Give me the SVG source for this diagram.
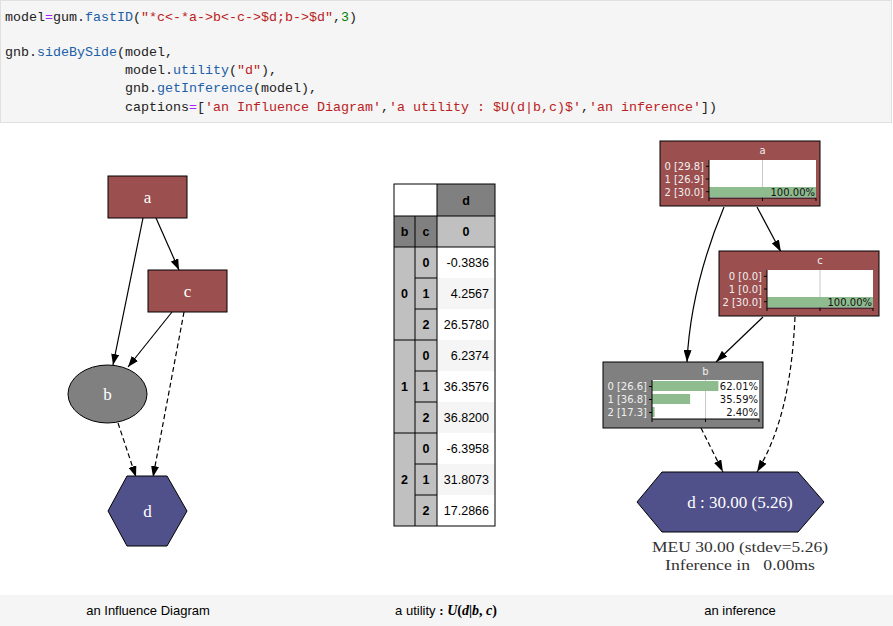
<svg xmlns="http://www.w3.org/2000/svg" width="893" height="626" viewBox="0 0 893 626">
<defs>
<style>
.code{font-family:"Liberation Mono",monospace;font-size:13.33px;fill:#212121;white-space:pre}
.op{fill:#aa22ff}.pr{fill:#2060a8}.st{fill:#ba2121}.nu{fill:#008000}
.cap{font-family:"Liberation Sans",Arial,sans-serif;font-size:13px;fill:#000;text-anchor:middle}
.gv{font-family:"Liberation Serif","Times New Roman",serif;font-size:17px;fill:#fff;text-anchor:middle}
.red{fill:#9c4f4f;stroke:#000;stroke-width:1}
.gray{fill:#808080;stroke:#000;stroke-width:1}
.blue{fill:#50508a;stroke:#000;stroke-width:1}
.edge{fill:none;stroke:#000;stroke-width:1.2}
.dash{stroke-dasharray:5,3}
.tb{font-family:"Liberation Sans",Arial,sans-serif;font-size:12.5px;fill:#000}
.tbb{font-weight:bold;text-anchor:middle}
.tv{text-anchor:end}
.tl{stroke:#000;stroke-width:1}
.pl{font-family:"DejaVu Sans",sans-serif;font-size:10px}
.ttl{fill:#f0f0f0;text-anchor:middle}
.lab{fill:#f0f0f0;text-anchor:end}
.pct{fill:#111;text-anchor:end}
.bar{fill:#8fbc8f}
.grid{stroke:#c8c8c8;stroke-width:1}
.ax{stroke:#000;stroke-width:1}
.res{font-family:"Liberation Serif","Times New Roman",serif;font-size:15.5px;fill:#333;text-anchor:middle;white-space:pre}
</style>
<marker id="ah" markerWidth="11" markerHeight="8" refX="11" refY="4" orient="auto" markerUnits="userSpaceOnUse">
<path d="M0,0 L11,4 L0,8 z" fill="#000"/>
</marker>
<marker id="ah2" markerWidth="12" markerHeight="8" refX="12" refY="4" orient="auto" markerUnits="userSpaceOnUse">
<path d="M0,0 L12,4 L0,8 z" fill="#000"/>
</marker>
</defs>
<rect width="893" height="626" fill="#fff"/>
<g id="code">
<rect x="0.5" y="0.5" width="891" height="122" fill="#f5f5f5" stroke="#e0e0e0"/>
<text class="code" x="5" y="21">model<tspan class="op">=</tspan>gum.<tspan class="pr">fastID</tspan>(<tspan class="st">"*c&lt;-*a-&gt;b&lt;-c-&gt;$d;b-&gt;$d"</tspan>,<tspan class="nu">3</tspan>)</text>
<text class="code" x="5" y="56">gnb.<tspan class="pr">sideBySide</tspan>(model,</text>
<text class="code" x="125" y="74">model.<tspan class="pr">utility</tspan>(<tspan class="st">"d"</tspan>),</text>
<text class="code" x="125" y="92">gnb.<tspan class="pr">getInference</tspan>(model),</text>
<text class="code" x="125" y="111">captions<tspan class="op">=</tspan>[<tspan class="st">'an Influence Diagram'</tspan>,<tspan class="st">'a utility : $U(d|b,c)$'</tspan>,<tspan class="st">'an inference'</tspan>])</text>
</g>
<g id="captions">
<rect x="0" y="595" width="893" height="31" fill="#f5f5f5"/>
<text class="cap" x="148" y="615">an Influence Diagram</text>
<text class="cap" x="446" y="615">a utility <tspan font-family="Liberation Serif,serif" font-weight="bold">:</tspan> <tspan font-family="Liberation Serif,serif" font-style="italic" font-weight="bold" font-size="14px">U</tspan><tspan font-family="Liberation Serif,serif" font-weight="bold" font-size="14px">(</tspan><tspan font-family="Liberation Serif,serif" font-style="italic" font-weight="bold" font-size="14px">d</tspan><tspan font-family="Liberation Serif,serif" font-weight="bold" font-size="14px">|</tspan><tspan font-family="Liberation Serif,serif" font-style="italic" font-weight="bold" font-size="14px">b</tspan><tspan font-family="Liberation Serif,serif" font-weight="bold" font-size="14px">, </tspan><tspan font-family="Liberation Serif,serif" font-style="italic" font-weight="bold" font-size="14px">c</tspan><tspan font-family="Liberation Serif,serif" font-weight="bold" font-size="14px">)</tspan></text>
<text class="cap" x="740" y="615">an inference</text>
</g>
<g id="id-connectors">
<path class="edge" d="M143,218 L113,365" marker-end="url(#ah)"/>
<path class="edge" d="M156,218 L179,270" marker-end="url(#ah)"/>
<path class="edge" d="M172,312 L128,367" marker-end="url(#ah)"/>
<path class="edge dash" d="M184,312 L153,477" marker-end="url(#ah)"/>
<path class="edge dash" d="M118,423 L136,477" marker-end="url(#ah)"/>
</g>
<g id="id-a"><rect class="red" x="108" y="176" width="79" height="42"/><text class="gv" x="147.5" y="203">a</text></g>
<g id="id-c"><rect class="red" x="148" y="270" width="79" height="42"/><text class="gv" x="187.5" y="297">c</text></g>
<g id="id-b"><ellipse class="gray" cx="107.5" cy="394" rx="39.5" ry="29"/><text class="gv" x="107.5" y="400">b</text></g>
<g id="id-d"><polygon class="blue" points="108,511 127,476 167,476 187,511 167,546 127,546"/><text class="gv" x="147.5" y="517">d</text></g>
<g id="utility-table" class="tb">
<rect x="394" y="184" width="43" height="32" fill="#fff"/>
<rect x="437" y="184" width="58" height="32" fill="#808080"/>
<rect x="394" y="216" width="43" height="31" fill="#808080"/>
<rect x="437" y="216" width="58" height="31" fill="#c0c0c0"/>
<rect x="394" y="247" width="43" height="279" fill="#c0c0c0"/>
<rect x="437" y="247" width="58" height="279" fill="#fff"/>
<rect x="437" y="278" width="58" height="31" fill="#f5f5f5"/>
<rect x="437" y="340" width="58" height="31" fill="#f5f5f5"/>
<rect x="437" y="402" width="58" height="31" fill="#f5f5f5"/>
<rect x="437" y="464" width="58" height="31" fill="#f5f5f5"/>
<rect x="394" y="184" width="101" height="342" fill="none" class="tl"/>
<line class="tl" x1="437" y1="184" x2="437" y2="526"/>
<line class="tl" x1="415" y1="216" x2="415" y2="526"/>
<line class="tl" x1="394" y1="216" x2="495" y2="216"/>
<line class="tl" x1="394" y1="247" x2="495" y2="247"/>
<line class="tl" x1="394" y1="340" x2="437" y2="340"/>
<line class="tl" x1="394" y1="433" x2="437" y2="433"/>
<line class="tl" x1="415" y1="278" x2="437" y2="278"/>
<line class="tl" x1="415" y1="309" x2="437" y2="309"/>
<line class="tl" x1="415" y1="371" x2="437" y2="371"/>
<line class="tl" x1="415" y1="402" x2="437" y2="402"/>
<line class="tl" x1="415" y1="464" x2="437" y2="464"/>
<line class="tl" x1="415" y1="495" x2="437" y2="495"/>
<text class="tbb" x="466" y="205">d</text>
<text class="tbb" x="404.5" y="236">b</text>
<text class="tbb" x="426" y="236">c</text>
<text class="tbb" x="466" y="236">0</text>
<text class="tbb" x="404.5" y="298">0</text>
<text class="tbb" x="404.5" y="391">1</text>
<text class="tbb" x="404.5" y="484">2</text>
<text class="tbb" x="426" y="267">0</text>
<text class="tbb" x="426" y="298">1</text>
<text class="tbb" x="426" y="329">2</text>
<text class="tbb" x="426" y="360">0</text>
<text class="tbb" x="426" y="391">1</text>
<text class="tbb" x="426" y="422">2</text>
<text class="tbb" x="426" y="453">0</text>
<text class="tbb" x="426" y="484">1</text>
<text class="tbb" x="426" y="515">2</text>
<text class="tv" x="489" y="267">-0.3836</text>
<text class="tv" x="489" y="298">4.2567</text>
<text class="tv" x="489" y="329">26.5780</text>
<text class="tv" x="489" y="360">6.2374</text>
<text class="tv" x="489" y="391">36.3576</text>
<text class="tv" x="489" y="422">36.8200</text>
<text class="tv" x="489" y="453">-6.3958</text>
<text class="tv" x="489" y="484">31.8073</text>
<text class="tv" x="489" y="515">17.2866</text>
</g>
<g id="inf-connectors">
<path class="edge" d="M724,207 C707,248 690,300 687,362" marker-end="url(#ah2)"/>
<path class="edge" d="M757,207 L781,252" marker-end="url(#ah2)"/>
<path class="edge" d="M763,317 L716,362" marker-end="url(#ah2)"/>
<path class="edge dash" d="M795,317 C792,380 782,430 757,472" marker-end="url(#ah2)"/>
<path class="edge dash" d="M701,428 L723,472" marker-end="url(#ah2)"/>
</g>
<g id="inf-a" class="pl">
<rect class="red" x="660" y="141" width="160" height="65"/>
<text class="ttl" x="762.5" y="154">a</text>
<rect x="709" y="160" width="107" height="38" fill="#fff"/>
<line class="grid" x1="762.5" y1="160" x2="762.5" y2="198"/>
<rect class="bar" x="709" y="187" width="107" height="10"/>
<line class="ax" x1="709" y1="160" x2="709" y2="198"/>
<line class="ax" x1="709" y1="198" x2="816" y2="198"/>
<path class="ax" d="M706,166.3H709M706,179H709M706,191.7H709M709,198V201M762.5,198V201M816,198V201"/>
<text class="lab" x="704" y="170">0 [29.8]</text>
<text class="lab" x="704" y="182.5">1 [26.9]</text>
<text class="lab" x="704" y="195.5">2 [30.0]</text>
<text class="pct" x="815" y="195.5">100.00%</text>
</g>
<g id="inf-c" class="pl">
<rect class="red" x="719" y="251" width="160" height="65"/>
<text class="ttl" x="820" y="264">c</text>
<rect x="767" y="270" width="106" height="38" fill="#fff"/>
<line class="grid" x1="820" y1="270" x2="820" y2="308"/>
<rect class="bar" x="767" y="297" width="106" height="10"/>
<line class="ax" x1="767" y1="270" x2="767" y2="308"/>
<line class="ax" x1="767" y1="308" x2="873" y2="308"/>
<path class="ax" d="M764,276.3H767M764,289H767M764,301.7H767M767,308V311M820,308V311M873,308V311"/>
<text class="lab" x="762" y="280">0 [0.0]</text>
<text class="lab" x="762" y="292.5">1 [0.0]</text>
<text class="lab" x="762" y="305.5">2 [30.0]</text>
<text class="pct" x="872" y="305.5">100.00%</text>
</g>
<g id="inf-b" class="pl">
<rect class="gray" x="603" y="362" width="160" height="66"/>
<text class="ttl" x="705.5" y="375">b</text>
<rect x="652" y="380" width="107" height="39" fill="#fff"/>
<line class="grid" x1="705.5" y1="380" x2="705.5" y2="419"/>
<rect class="bar" x="652" y="381" width="66.4" height="10"/>
<rect class="bar" x="652" y="394" width="38.1" height="10"/>
<rect class="bar" x="652" y="407" width="2.6" height="10"/>
<line class="ax" x1="652" y1="380" x2="652" y2="419"/>
<line class="ax" x1="652" y1="419" x2="759" y2="419"/>
<path class="ax" d="M649,386.5H652M649,399.5H652M649,412.5H652M652,419V422M705.5,419V422M759,419V422"/>
<text class="lab" x="647" y="390">0 [26.6]</text>
<text class="lab" x="647" y="403">1 [36.8]</text>
<text class="lab" x="647" y="416">2 [17.3]</text>
<text class="pct" x="758" y="390">62.01%</text>
<text class="pct" x="758" y="403">35.59%</text>
<text class="pct" x="758" y="416">2.40%</text>
</g>
<g id="inf-d">
<polygon class="blue" points="637,502 662,472 798,472 824,502 798,532 662,532"/>
<text class="gv" x="740" y="508">d : 30.00 (5.26)</text>
</g>
<g id="inf-result">
<text class="res" x="740" y="552" textLength="176" lengthAdjust="spacingAndGlyphs">MEU 30.00 (stdev=5.26)</text>
<text class="res" x="740" y="570" textLength="150" lengthAdjust="spacingAndGlyphs">Inference in   0.00ms</text>
</g>
</svg>
